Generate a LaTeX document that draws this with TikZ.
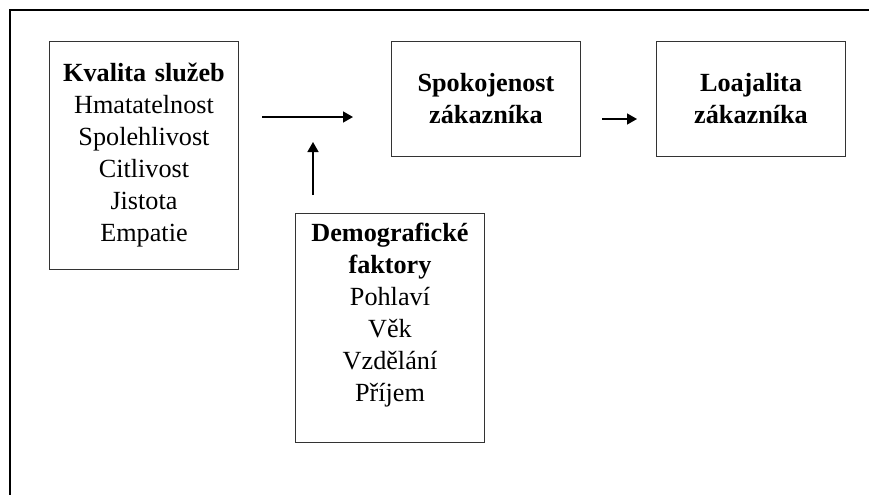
\documentclass[tikz,border=0pt]{standalone}
\usepackage{fontspec}
\setmainfont{Liberation Serif}
\usetikzlibrary{arrows.meta}
\usetikzlibrary{positioning}

\begin{document}
\begin{tikzpicture}[x=0.5pt,y=-0.5pt,->,>={Triangle[length=5pt,width=5.5pt]},
  line width=0.75pt,
  box/.style={draw=black!80,line width=0.5pt,minimum width=94.5pt,text width=92pt,
    align=center,inner sep=0pt,font=\fontsize{13.1pt}{16pt}\selectfont}]

  \useasboundingbox (0,0) rectangle (869,495);
  \draw[-,line width=1pt] (869,10) -- (10,10) -- (10,495);

  \node[box,minimum height=114pt,anchor=north west] (kvalita) at (49,41)
    {\textbf{Kvalita služeb}\\Hmatatelnost\\Spolehlivost\\Citlivost\\Jistota\\Empatie};
  \node[box,minimum height=57.5pt] (spokojenost) [right=76pt of kvalita.north east,anchor=north west]
    {\textbf{Spokojenost}\\\textbf{zákazníka}};
  \node[box,minimum height=57.5pt] (loajalita) [right=37.5pt of spokojenost.north east,anchor=north west]
    {\textbf{Loajalita}\\\textbf{zákazníka}};
  \node[box,minimum height=114.5pt,anchor=north west] (demografie) at (295,213)
    {\textbf{Demografické}\\\textbf{faktory}\\Pohlaví\\Věk\\Vzdělání\\Příjem\\\mbox{}};

  \coordinate (k-start) at (262,117);
  \coordinate (k-end) at (353,117);
  \coordinate (d-start) at (313,195);
  \coordinate (d-end) at (313,142);
  \coordinate (s-start) at (602,119);
  \coordinate (s-end) at (637,119);

  \draw (k-start) -- (k-end);
  \draw (d-start) -- (d-end);
  \draw (s-start) -- (s-end);
\end{tikzpicture}
\end{document}
